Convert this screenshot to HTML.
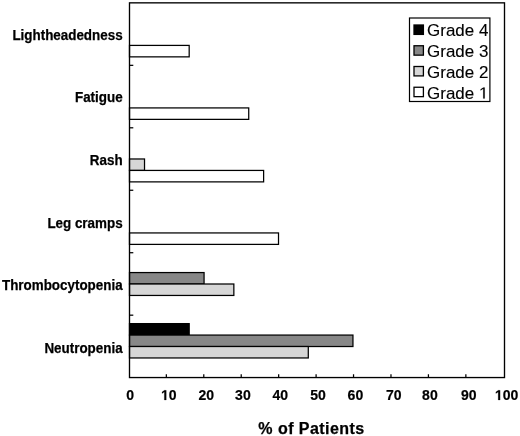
<!DOCTYPE html><html><head><meta charset="utf-8"><style>
html,body{margin:0;padding:0;background:#fff;width:520px;height:436px;overflow:hidden}
svg{display:block;will-change:transform}
text{font-family:"Liberation Sans",sans-serif}
</style></head><body>
<svg width="520" height="436" viewBox="0 0 520 436">
<rect width="520" height="436" fill="#fff"/>
<rect x="129.50" y="45.41" width="59.68" height="11.45" fill="#fff" stroke="#000" stroke-width="1.25"/>
<text x="122.6" y="40.40" font-size="14" font-weight="bold" text-anchor="end" stroke="#000" stroke-width="0.25" textLength="110.19" lengthAdjust="spacingAndGlyphs">Lightheadedness</text>
<rect x="129.50" y="107.92" width="119.23" height="11.45" fill="#fff" stroke="#000" stroke-width="1.25"/>
<text x="122.6" y="102.10" font-size="14" font-weight="bold" text-anchor="end" stroke="#000" stroke-width="0.25" textLength="47.64" lengthAdjust="spacingAndGlyphs">Fatigue</text>
<rect x="129.50" y="158.98" width="15.02" height="11.45" fill="#d6d6d6" stroke="#000" stroke-width="1.25"/>
<rect x="129.50" y="170.43" width="134.12" height="11.45" fill="#fff" stroke="#000" stroke-width="1.25"/>
<text x="122.6" y="165.00" font-size="14" font-weight="bold" text-anchor="end" stroke="#000" stroke-width="0.25" textLength="32.76" lengthAdjust="spacingAndGlyphs">Rash</text>
<rect x="129.50" y="232.94" width="149.01" height="11.45" fill="#fff" stroke="#000" stroke-width="1.25"/>
<text x="122.6" y="228.10" font-size="14" font-weight="bold" text-anchor="end" stroke="#000" stroke-width="0.25" textLength="75.21" lengthAdjust="spacingAndGlyphs">Leg cramps</text>
<rect x="129.50" y="272.56" width="74.57" height="11.45" fill="#878787" stroke="#000" stroke-width="1.25"/>
<rect x="129.50" y="284.00" width="104.35" height="11.45" fill="#d6d6d6" stroke="#000" stroke-width="1.25"/>
<text x="122.6" y="290.10" font-size="14" font-weight="bold" text-anchor="end" stroke="#000" stroke-width="0.25" textLength="120.60" lengthAdjust="spacingAndGlyphs">Thrombocytopenia</text>
<rect x="129.50" y="323.62" width="59.68" height="11.45" fill="#000" stroke="#000" stroke-width="1.25"/>
<rect x="129.50" y="335.07" width="223.45" height="11.45" fill="#878787" stroke="#000" stroke-width="1.25"/>
<rect x="129.50" y="346.51" width="178.79" height="11.45" fill="#d6d6d6" stroke="#000" stroke-width="1.25"/>
<text x="122.6" y="352.70" font-size="14" font-weight="bold" text-anchor="end" stroke="#000" stroke-width="0.25" textLength="78.17" lengthAdjust="spacingAndGlyphs">Neutropenia</text>
<rect x="129.5" y="2.85" width="375.00" height="374.70" fill="none" stroke="#000" stroke-width="1.35"/>
<line x1="129.5" y1="65.34" x2="133.3" y2="65.34" stroke="#000" stroke-width="1.25"/>
<line x1="129.5" y1="127.80" x2="133.3" y2="127.80" stroke="#000" stroke-width="1.25"/>
<line x1="129.5" y1="190.26" x2="133.3" y2="190.26" stroke="#000" stroke-width="1.25"/>
<line x1="129.5" y1="252.72" x2="133.3" y2="252.72" stroke="#000" stroke-width="1.25"/>
<line x1="129.5" y1="315.18" x2="133.3" y2="315.18" stroke="#000" stroke-width="1.25"/>
<text x="126.36" y="400.00" font-size="14" font-weight="bold" stroke="#000" stroke-width="0.2">0</text>
<line x1="166.34" y1="377.55" x2="166.34" y2="374.25" stroke="#000" stroke-width="1.25"/>
<text x="161.06" y="400.00" font-size="14" font-weight="bold" stroke="#000" stroke-width="0.2"> 0</text><path transform="translate(161.064 400.000) scale(0.006836 -0.006836)" d="M478 0V1170L140 959V1180L493 1409H759V0Z" stroke="#000" stroke-width="29.3"/>
<line x1="203.78" y1="377.55" x2="203.78" y2="374.25" stroke="#000" stroke-width="1.25"/>
<text x="198.56" y="400.00" font-size="14" font-weight="bold" stroke="#000" stroke-width="0.2">20</text>
<line x1="241.22" y1="377.55" x2="241.22" y2="374.25" stroke="#000" stroke-width="1.25"/>
<text x="235.11" y="400.00" font-size="14" font-weight="bold" stroke="#000" stroke-width="0.2">30</text>
<line x1="278.66" y1="377.55" x2="278.66" y2="374.25" stroke="#000" stroke-width="1.25"/>
<text x="272.51" y="400.00" font-size="14" font-weight="bold" stroke="#000" stroke-width="0.2">40</text>
<line x1="316.10" y1="377.55" x2="316.10" y2="374.25" stroke="#000" stroke-width="1.25"/>
<text x="310.21" y="400.00" font-size="14" font-weight="bold" stroke="#000" stroke-width="0.2">50</text>
<line x1="353.54" y1="377.55" x2="353.54" y2="374.25" stroke="#000" stroke-width="1.25"/>
<text x="347.61" y="400.00" font-size="14" font-weight="bold" stroke="#000" stroke-width="0.2">60</text>
<line x1="390.98" y1="377.55" x2="390.98" y2="374.25" stroke="#000" stroke-width="1.25"/>
<text x="385.91" y="400.00" font-size="14" font-weight="bold" stroke="#000" stroke-width="0.2">70</text>
<line x1="428.42" y1="377.55" x2="428.42" y2="374.25" stroke="#000" stroke-width="1.25"/>
<text x="422.11" y="400.00" font-size="14" font-weight="bold" stroke="#000" stroke-width="0.2">80</text>
<line x1="465.86" y1="377.55" x2="465.86" y2="374.25" stroke="#000" stroke-width="1.25"/>
<text x="461.01" y="400.00" font-size="14" font-weight="bold" stroke="#000" stroke-width="0.2">90</text>
<text x="494.92" y="400.00" font-size="14" font-weight="bold" stroke="#000" stroke-width="0.2"> 00</text><path transform="translate(494.921 400.000) scale(0.006836 -0.006836)" d="M478 0V1170L140 959V1180L493 1409H759V0Z" stroke="#000" stroke-width="29.3"/>
<text x="311.5" y="434.4" font-size="16" font-weight="bold" text-anchor="middle" letter-spacing="0.45" stroke="#000" stroke-width="0.25">% of Patients</text>
<rect x="409.5" y="18.0" width="80.4" height="83.5" fill="#fff" stroke="#000" stroke-width="1.2"/>
<rect x="414" y="25.00" width="9.4" height="9.4" fill="#000" stroke="#000" stroke-width="1.3"/>
<g transform="translate(427.08 0) scale(1.0475 1)">
<text x="0" y="36.50" font-size="16.2" stroke="#000" stroke-width="0.12">Grade 4</text>
</g>
<rect x="414" y="45.75" width="9.4" height="9.4" fill="#878787" stroke="#000" stroke-width="1.3"/>
<g transform="translate(427.08 0) scale(1.0475 1)">
<text x="0" y="57.20" font-size="16.2" stroke="#000" stroke-width="0.12">Grade 3</text>
</g>
<rect x="414" y="66.50" width="9.4" height="9.4" fill="#d6d6d6" stroke="#000" stroke-width="1.3"/>
<g transform="translate(427.08 0) scale(1.0475 1)">
<text x="0" y="77.90" font-size="16.2" stroke="#000" stroke-width="0.12">Grade 2</text>
</g>
<rect x="414" y="87.25" width="9.4" height="9.4" fill="#fff" stroke="#000" stroke-width="1.3"/>
<g transform="translate(427.08 0) scale(1.0475 1)">
<text x="0" y="98.60" font-size="16.2" stroke="#000" stroke-width="0.12">Grade</text>
<text x="49.53" y="98.60" font-size="16.2"> </text><path transform="translate(49.525 98.600) scale(0.007910 -0.007910)" d="M515 0V1237L197 1010V1180L530 1409H696V0Z" stroke="#000" stroke-width="15.2"/>
</g>
</svg></body></html>
